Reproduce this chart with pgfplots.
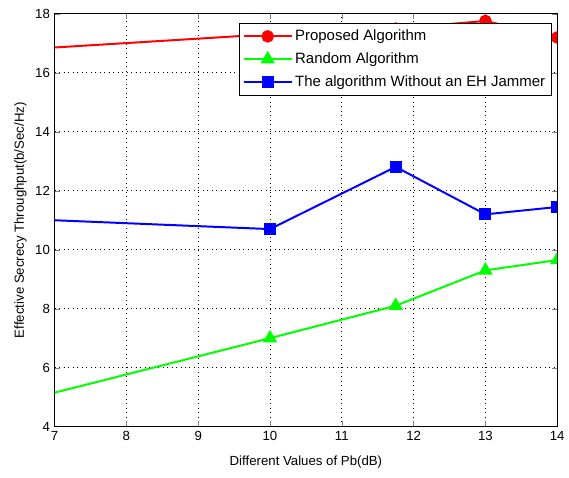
\documentclass[border=0pt]{standalone}
\usepackage{fontspec}
\setmainfont{Liberation Sans}
\usepackage{pgfplots}
\pgfplotsset{compat=1.18}

\begin{document}
\fontsize{10}{12}\selectfont
\begin{tikzpicture}
\begin{axis}[width=380pt,height=312pt,scale only axis,
    xmin=7,xmax=14,ymin=4,ymax=18,
    xtick={7,8,...,14},ytick={4,6,...,18},
    tick align=inside,major tick length=4pt,
    grid=major,grid style={black,line width=0.6pt,dash pattern=on 0.6pt off 2.8pt},
    axis line style={black,line width=0.7pt},
    xlabel={Different Values of Pb(dB)},
    ylabel={Effective Secrecy Throughput(b/Sec/Hz)},
    xlabel style={at={(axis description cs:0.5,-0.0865)},anchor=center},
    ylabel style={at={(axis description cs:-0.068,0.5)},anchor=center},
    /pgf/number format/assume math mode=true,
    clip marker paths=true,
    legend style={at={(0.99,0.978)},anchor=north east,draw=black,line width=0.6pt,
      font=\fontsize{11.3}{13.5}\selectfont,row sep=3.6pt,inner xsep=3pt,inner ysep=3pt},
    legend image code/.code={\draw[mark repeat=2,mark phase=2]
      plot coordinates {(0pt,0pt)(18pt,0pt)(36pt,0pt)};},
    legend cell align=left]
  \addplot[red,line width=1.5pt,mark=*,mark size=4pt] coordinates {
    (5,16.56)(10,17.31)(11.75,17.5)(13,17.76)(14,17.2)};
  \addplot[green,line width=1.5pt,mark=triangle*,mark size=4.8pt] coordinates {
    (5,3.92)(10,7.0)(11.75,8.1)(13,9.3)(14,9.65)};
  \addplot[blue,line width=1.5pt,mark=square*,mark size=3.8pt] coordinates {
    (5,11.2)(10,10.7)(11.75,12.81)(13,11.2)(14,11.45)};
  \legend{Proposed Algorithm,Random Algorithm,The algorithm Without an EH Jammer}
\end{axis}
\path ([xshift=-41.25pt,yshift=-38.25pt]current axis.south west)
  rectangle ([xshift=5.25pt,yshift=10.5pt]current axis.north east);
\end{tikzpicture}
\end{document}
